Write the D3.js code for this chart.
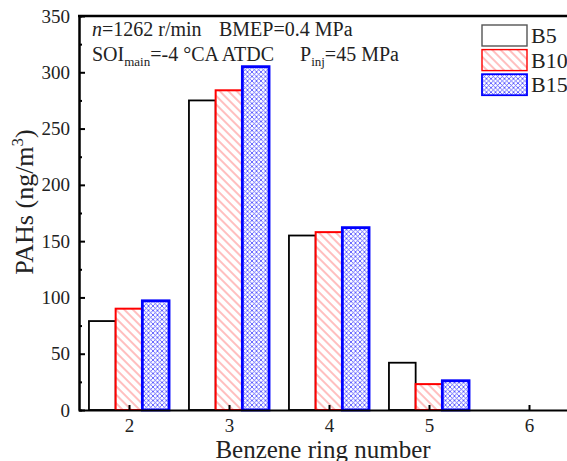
<!DOCTYPE html>
<html>
<head>
<meta charset="utf-8">
<script src="https://cdn.jsdelivr.net/npm/d3@7"></script>
<style>
  body { margin: 0; background: #fff; }
  svg { display: block; }
  svg text { font-family: "Liberation Serif", "Times New Roman", serif; }
</style>
</head>
<body>
<svg id="chart" width="567" height="461"></svg>
<script>
// ring numbers and PAH concentration (ng/m3) per fuel blend
var rings = [2, 3, 4, 5, 6];
var seriesNames = ["B5", "B10", "B15"];
var b5 = [79, 275, 155, 42, 0];
var b10 = [90, 284, 158, 23, 0];
var b15 = [97, 305, 162, 26, 0];
var yTicks = [0, 50, 100, 150, 200, 250, 300, 350];

var svg = d3.select("#chart");

var x = d3.scaleLinear().domain([1.5, 6.5]).range([79, 579]);
var y = d3.scaleLinear().domain([0, 350]).range([410, 16]);

// patterns
var defs = svg.append("defs");
var hatch = defs.append("pattern")
  .attr("id", "hatchRed")
  .attr("patternUnits", "userSpaceOnUse")
  .attr("width", 6).attr("height", 6)
  .attr("patternTransform", "rotate(-45)");
hatch.append("rect").attr("width", 6).attr("height", 6).attr("fill", "#fff");
hatch.append("line").attr("x1", 1).attr("y1", 0).attr("x2", 1).attr("y2", 6)
  .attr("stroke", "#ff8080").attr("stroke-width", 1);

var cross = defs.append("pattern")
  .attr("id", "crossBlue")
  .attr("patternUnits", "userSpaceOnUse")
  .attr("width", 4.5).attr("height", 4.5);
cross.append("rect").attr("width", 4.5).attr("height", 4.5).attr("fill", "#fff");
cross.append("path").attr("d", "M0,0L4.5,4.5M4.5,0L0,4.5")
  .attr("stroke", "#4646ff").attr("stroke-width", 0.8);

var styles = [
  {name: seriesNames[0], values: b5, stroke: "#000", fill: "#fff", sw: 1.8},
  {name: seriesNames[1], values: b10, stroke: "#ff0000", fill: "url(#hatchRed)", sw: 2},
  {name: seriesNames[2], values: b15, stroke: "#0000ff", fill: "url(#crossBlue)", sw: 2.8}
];

var barW = 0.267;
var offsets = [-1.5 * barW, -0.5 * barW, 0.5 * barW];

styles.forEach(function (s, i) {
  svg.append("g").selectAll("rect")
    .data(rings.map(function (r, j) { return {ring: r, v: s.values[j]}; })
      .filter(function (d) { return d.v > 0; }))
    .enter()
    .append("rect")
    .attr("x", function (d) { return x(d.ring + offsets[i]); })
    .attr("width", x(barW) - x(0))
    .attr("y", function (d) { return y(d.v); })
    .attr("height", function (d) { return y(0) - y(d.v); })
    .style("fill", s.fill)
    .style("stroke", s.stroke)
    .style("stroke-width", s.sw);
});

// axes
var yAxis = d3.axisLeft(y).tickValues(yTicks).tickSizeInner(-6).tickSizeOuter(0).tickPadding(9);
var yMinor = d3.axisLeft(y).tickValues(d3.range(25, 350, 50)).tickSize(-3).tickFormat("");
var xAxis = d3.axisBottom(x).tickValues(rings).tickFormat(d3.format("d"))
  .tickSizeInner(-5).tickSizeOuter(0).tickPadding(9);

svg.append("g").attr("transform", "translate(79,0)").call(yAxis);
svg.append("g").attr("transform", "translate(79,0)").call(yMinor);
svg.append("g").attr("transform", "translate(0,410)").call(xAxis);

svg.selectAll("g").attr("font-family", null);
svg.selectAll(".domain, .tick line").attr("stroke", "#000").attr("stroke-width", 2);
svg.selectAll(".tick text").attr("font-size", 19).attr("fill", "#222");

// top frame
svg.append("line").attr("x1", 78).attr("x2", 567).attr("y1", 16).attr("y2", 16)
  .attr("stroke", "#000").attr("stroke-width", 2.5);

// axis titles
svg.append("text")
  .attr("x", 323).attr("y", 458)
  .attr("text-anchor", "middle").attr("font-size", 25).attr("fill", "#222")
  .text("Benzene ring number");

var yt = svg.append("text")
  .attr("transform", "translate(33,202) rotate(-90)")
  .attr("text-anchor", "middle").attr("font-size", 26).attr("fill", "#222");
yt.append("tspan").text("PAHs (ng/m");
yt.append("tspan").attr("font-size", 17).attr("dy", -10).text("3");
yt.append("tspan").attr("dy", 10).text(")");

// operating condition notes
var n1 = svg.append("text").attr("x", 92).attr("y", 36).attr("font-size", 20).attr("fill", "#222");
n1.append("tspan").attr("font-style", "italic").text("n");
n1.append("tspan").text("=1262 r/min");
n1.append("tspan").attr("x", 219).text("BMEP=0.4 MPa");

var n2 = svg.append("text").attr("x", 92).attr("y", 61).attr("font-size", 20).attr("fill", "#222");
n2.append("tspan").text("SOI");
n2.append("tspan").attr("font-size", 13).attr("dy", 5).text("main");
n2.append("tspan").attr("dy", -5).text("=-4 \u00B0CA ATDC");
n2.append("tspan").attr("x", 300).text("P");
n2.append("tspan").attr("font-size", 13).attr("dy", 5).text("inj");
n2.append("tspan").attr("dy", -5).text("=45 MPa");

// legend
var leg = svg.append("g").selectAll("g")
  .data(styles).enter().append("g")
  .attr("transform", function (d, i) { return "translate(482," + (25 + i * 24.6) + ")"; });
leg.append("rect")
  .attr("width", 45).attr("height", 21)
  .style("fill", function (d) { return d.fill; })
  .style("stroke", function (d) { return d.name === "B5" ? "#555" : d.stroke; })
  .style("stroke-width", function (d) { return d.name === "B15" ? 1.8 : 1.4; });
leg.append("text")
  .attr("x", 49).attr("y", 18)
  .attr("font-size", 22).attr("fill", "#222")
  .text(function (d) { return d.name; });
</script>
</body>
</html>
